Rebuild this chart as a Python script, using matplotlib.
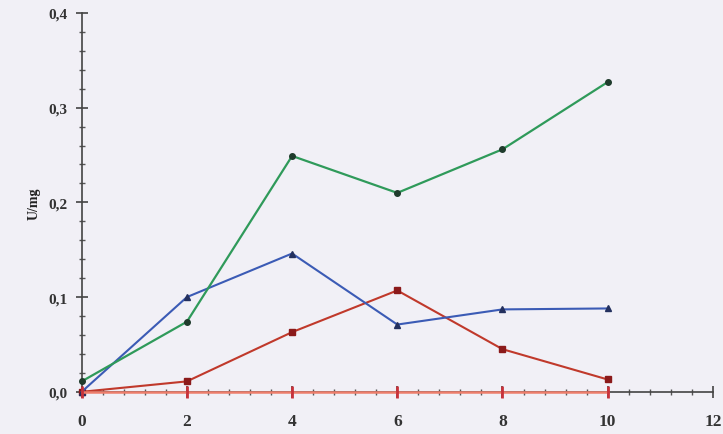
import matplotlib.pyplot as plt
from matplotlib.ticker import MultipleLocator, FuncFormatter

# hours (x) and activity in U/mg for each series
hours = [0, 2, 4, 6, 8, 10]
green_vals = [0.011, 0.074, 0.249, 0.210, 0.256, 0.327]
blue_vals = [0.0, 0.100, 0.146, 0.071, 0.087, 0.088]
red_vals = [0.0, 0.011, 0.063, 0.107, 0.045, 0.013]
zero_vals = [0.0, 0.0, 0.0, 0.0, 0.0, 0.0]

plt.rcParams['font.family'] = ['Liberation Serif', 'DejaVu Serif']

fig = plt.figure(figsize=(7.23, 4.35), dpi=100)
fig.patch.set_facecolor('#f1f0f6')
ax = fig.add_axes([0.113, 0.097, 0.873, 0.871])
ax.set_facecolor('#f1f0f6')

ax.plot(hours, zero_vals, color='#ee7e6c', lw=1.8, marker='|', ms=9,
        mec='#c8323a', mew=2, zorder=6, clip_on=False)
ax.plot(hours, red_vals, color='#c0392b', lw=1.5, marker='s', ms=4,
        mfc='#8b1a1a', mec='#8b1a1a', zorder=3, clip_on=False)
ax.plot(hours, blue_vals, color='#3b5bb5', lw=1.5, marker='^', ms=4,
        mfc='#23305e', mec='#23305e', zorder=4, clip_on=False)
ax.plot(hours, green_vals, color='#2f9a5a', lw=1.6, marker='o', ms=4,
        mfc='#1f3b2c', mec='#1f3b2c', zorder=5, clip_on=False)

ax.set_xlim(0, 12)
ax.set_ylim(0, 0.4)
for s in ['top', 'right']:
    ax.spines[s].set_visible(False)
for s in ['left', 'bottom']:
    ax.spines[s].set_color('#444444')
    ax.spines[s].set_linewidth(1.2)

ax.xaxis.set_major_locator(MultipleLocator(2))
ax.xaxis.set_minor_locator(MultipleLocator(0.4))
ax.yaxis.set_major_locator(MultipleLocator(0.1))
ax.yaxis.set_minor_locator(MultipleLocator(0.02))
ax.yaxis.set_major_formatter(FuncFormatter(lambda v, p: f'{v:.1f}'.replace('.', ',')))

ax.tick_params(which='major', direction='inout', length=8, width=1.2, colors='#444444',
               labelcolor='#333333')
ax.tick_params(which='minor', direction='inout', length=4, width=1, colors='#555555')
ax.tick_params(axis='x', which='major', pad=11, labelsize=12.5)
ax.tick_params(axis='y', which='major', pad=6, labelsize=11)
for lbl in ax.get_xticklabels() + ax.get_yticklabels():
    lbl.set_fontweight('bold')

ax.set_ylabel('U/mg', fontsize=10, fontweight='bold', labelpad=6, color='#222222')

fig.savefig('out.png', dpi=100, facecolor=fig.get_facecolor())
